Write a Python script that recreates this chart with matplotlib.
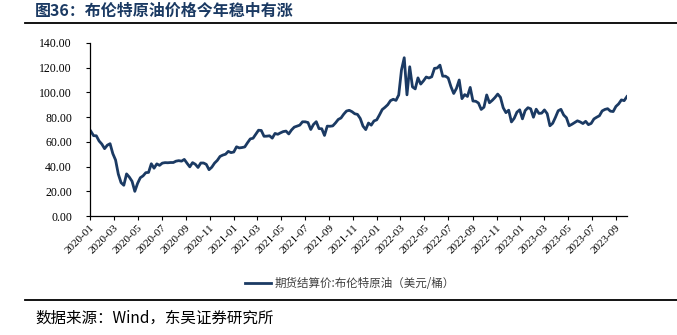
import numpy as np
import pandas as pd
import matplotlib
matplotlib.use("Agg")
import matplotlib.pyplot as plt
from matplotlib.lines import Line2D

plt.rcParams['font.family'] = ['Noto Sans CJK SC', 'DejaVu Sans']

# weekly Brent futures settlement, USD/bbl
brent_2020 = [68.6, 65.0, 64.9, 60.7, 58.2,
              54.5, 57.3, 58.5, 50.5,
              45.3, 33.9, 27.0, 24.9,
              34.1, 31.5, 28.1, 20.0,
              26.4, 31.0, 32.5, 35.1, 35.3,
              42.3, 38.7, 42.2, 41.0,
              42.8, 43.2, 43.1, 43.3, 43.3,
              44.4, 44.8, 44.4, 45.8,
              42.7, 39.8, 43.2, 41.9,
              39.3, 42.9, 42.9, 41.8, 37.5,
              39.5, 42.8, 45.0, 48.2,
              49.3, 50.0, 52.3, 51.3]
brent_2021 = [51.8, 56.0, 55.1, 55.4, 55.9,
              59.3, 62.4, 62.9, 66.1,
              69.4, 69.2, 64.5, 64.6,
              64.9, 63.0, 66.8, 66.1, 67.3,
              68.3, 68.7, 66.4, 69.6,
              71.9, 72.7, 73.5, 76.2,
              76.2, 75.6, 70.0, 74.1, 76.3,
              70.7, 70.6, 65.2, 72.7,
              72.6, 72.9, 75.3, 78.1,
              79.3, 82.4, 84.9, 85.5, 84.4,
              82.7, 82.2, 78.9, 72.7,
              69.9, 75.2, 73.5, 76.9, 77.8]
brent_2022 = [81.8, 86.1, 87.9, 90.0,
              93.3, 94.4, 93.5, 97.9,
              118.1, 128.0, 98.0, 120.7,
              104.4, 102.8, 111.7, 106.7, 109.3,
              112.4, 111.6, 112.6, 119.4,
              119.7, 122.0, 113.1, 113.1,
              111.6, 104.6, 99.1, 103.2, 110.0,
              94.9, 98.2, 96.7, 104.0,
              93.0, 92.8, 91.4, 86.2, 88.0,
              97.9, 91.6, 93.5, 95.8,
              98.6, 96.0, 87.6, 83.6,
              85.6, 76.1, 79.0, 84.0, 85.9]
brent_2023 = [78.6, 85.3, 87.6, 86.7,
              79.9, 86.4, 83.0, 83.2,
              85.8, 82.8, 73.0, 75.0, 79.8,
              85.1, 86.3, 81.7, 79.5,
              73.0, 74.2, 75.6, 77.0,
              76.1, 74.8, 76.6, 73.9, 74.9,
              78.5, 79.9, 81.1, 85.0,
              86.2, 86.8, 84.8, 84.5,
              88.6, 90.7, 93.9, 93.3, 96.6]

brent = brent_2020 + brent_2021 + brent_2022 + brent_2023
weeks = pd.date_range("2020-01-03", periods=len(brent), freq="W-FRI")

series_name = "期货结算价:布伦特原油（美元/桶）"
title = "图36：布伦特原油价格今年稳中有涨"
source = "数据来源：Wind，东吴证券研究所"
navy = "#1b3a63"

fig = plt.figure(figsize=(6.77, 3.35), dpi=100)
ax = fig.add_axes([0.133, 0.355, 0.793, 0.517])

ax.plot(weeks, brent, color=navy, linewidth=2.0, label=series_name)

ax.set_ylim(0, 140)
ax.set_yticks(np.arange(0, 141, 20))
ax.yaxis.set_major_formatter(matplotlib.ticker.FormatStrFormatter('%.2f'))
ax.set_xlim(pd.Timestamp("2020-01-01"), weeks[-1])
xt = pd.date_range("2020-01-01", "2023-09-01", freq="2MS")
ax.set_xticks(xt)
ax.set_xticklabels([d.strftime("%Y-%m") for d in xt], rotation=45, ha='right',
                   rotation_mode='anchor', family='Liberation Serif', fontsize=8)
for lab in ax.get_yticklabels():
    lab.set_family('Liberation Serif')
    lab.set_fontsize(8.5)
ax.tick_params(axis='both', direction='out', length=3, width=0.8, colors='black')
ax.tick_params(axis='y', pad=10)
ax.tick_params(axis='x', pad=2)
for s in ['top', 'right']:
    ax.spines[s].set_visible(False)
for s in ['left', 'bottom']:
    ax.spines[s].set_linewidth(0.9)

leg = fig.legend(loc='center', bbox_to_anchor=(0.517, 0.155), frameon=False,
                 fontsize=8.3, handlelength=2.2, handletextpad=0.3)
for t in leg.get_texts():
    t.set_color('#404040')

fig.text(0.052, 0.968, title, fontsize=11.5, fontweight='bold', color=navy,
         va='center', ha='left')
fig.add_artist(Line2D([0.037, 1.0], [0.931, 0.931], color='black', linewidth=1.3))
fig.add_artist(Line2D([0.037, 1.0], [0.104, 0.104], color='black', linewidth=1.3))
fig.text(0.052, 0.05, source, fontsize=11.2, color='black', va='center', ha='left')

fig.savefig("out.png", dpi=100)
